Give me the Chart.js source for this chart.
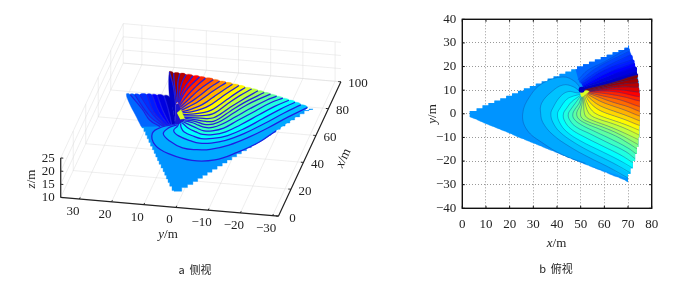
<!DOCTYPE html>
<html lang="en">

<head>
    <meta charset="UTF-8">
    <title>侧视 俯视</title>
    <style>
        body {
            margin: 0;
            background: #fff;
            font-family: "Liberation Serif", serif;
            color: #222;
        }

        #wrap {
            position: relative;
            width: 694px;
            height: 282px;
            overflow: hidden;
        }

        #side,
        #top {
            position: absolute;
            top: 0;
        }

        #side {
            left: 0;
        }

        #top {
            left: 347px;
        }

        .lab {
            position: absolute;
            font-size: 13px;
            line-height: 14px;
            white-space: nowrap;
            transform: translate(-50%, -50%);
        }

        .cap {
            font-family: "Noto Sans CJK SC", sans-serif;
            font-size: 11px;
        }
    </style>
    <script src="https://cdn.jsdelivr.net/npm/chart.js"></script>
</head>

<body>
    <div id="wrap">
        <div id="side"><canvas id="sideChart" width="347" height="282"></canvas></div>
        <div id="top"><canvas id="topChart" width="347" height="282"></canvas></div>
    </div>

    <script>
        // tick labels
        const sideXTicks = [0, 20, 40, 60, 80, 100];
        const sideYTicks = [30, 20, 10, 0, -10, -20, -30];
        const sideZTicks = [10, 15, 20, 25];
        const topXTicks = [0, 10, 20, 30, 40, 50, 60, 70, 80];
        const topYTicks = [-40, -30, -20, -10, 0, 10, 20, 30, 40];

        // wedge edge, read from the top view (stair corners)
        const wedgeTop = [[3, 1.2], [6, 2.4], [8.5, 3.6], [11, 4.6], [13.5, 5.6], [16, 6.6], [18.5, 7.6], [21, 8.7], [23.5, 9.8], [26, 10.8], [28.5, 11.8], [31, 12.8], [33.5, 13.8], [36, 14.9], [38.5, 15.9], [41, 16.9], [43.5, 17.9], [46, 18.9], [48.5, 20], [51, 21], [53.5, 22], [56, 23], [58.5, 24], [61, 25], [63.5, 26.1], [66, 27], [68.5, 28], [70, 29]];
        const wedgeArc = [[71, 25.5], [72, 23], [73, 20], [73.8, 17], [74.4, 14], [74.8, 10], [75, 5], [75, -5], [74.8, -10], [74.4, -14], [73.8, -17], [73, -20], [72, -23], [71, -25.5]];
        const wedgeBottom = [[70, -29], [68.5, -28], [66, -27], [63.5, -26.1], [61, -25], [58.5, -24], [56, -23], [53.5, -22], [51, -21], [48.5, -20], [46, -18.9], [43.5, -17.9], [41, -16.9], [38.5, -15.9], [36, -14.9], [33.5, -13.8], [31, -12.8], [28.5, -11.8], [26, -10.8], [23.5, -9.8], [21, -8.7], [18.5, -7.6], [16, -6.6], [13.5, -5.6], [11, -4.6], [8.5, -3.6], [6, -2.4], [3, -1.2]];

        // contours below and left of the source, low z to high z
        const contourLevels = [14.8, 15, 15.3, 15.6, 15.9, 16.2, 16.5, 16.8, 17.1, 17.4, 17.8, 18.1, 18.5, 18.8, 19.2, 19.5, 19.9, 20.2, 20.6, 20.9, 21.3, 21.6, 21.8, 22];
        const contours = [
            [[50.4, 10], [47.6, 13.6], [42.5, 15.6], [34, 13], [28.6, 7.5], [25.5, 0], [27.3, -6.8], [34, -12.4], [42.6, -17.5], [52, -21]],
            [[49.7, 9.4], [46.8, 11.5], [42.5, 12.2], [37.8, 9.4], [33.5, 4.5], [33.1, 0], [34.2, -4], [38.4, -9], [45.5, -14], [53, -18.2], [62, -22.7], [70, -27.2]],
            [[49.8, 8.8], [48.3, 8.9], [44.7, 9.4], [41.3, 7.2], [38.2, 2.4], [37.4, 0], [38.2, -3.5], [41, -7.5], [47, -12], [55, -16.5], [64, -21], [71, -25]],
            [[49.7, 8.2], [46.9, 7.5], [44.1, 6.1], [41.3, 2.4], [40.2, 0], [41, -3.5], [44, -7.5], [50, -11.5], [58, -15.5], [66, -19.5], [72, -23]],
            [[50, 8], [49, 7.2], [46.2, 5.1], [44.1, 2.4], [42.7, 0], [43.2, -3], [46, -6.5], [52, -10], [60, -14], [67, -17.5], [72.5, -21]],
            [[50, 7.5], [47.9, 4.7], [46.2, 2.4], [44.8, 0], [45.3, -2.5], [48, -5.5], [54, -8.5], [62, -12.5], [69, -16], [73, -19]],
            [[50.2, 7.2], [49.3, 4.4], [47.9, 2.4], [46.7, 0], [47.2, -2.2], [50, -4.5], [56, -7.5], [63, -10.8], [70, -14.5], [73.5, -17]],
            [[50.4, 7], [49.8, 3.5], [48.7, 1.5], [48.3, 0], [49, -2], [52, -4], [58, -6.5], [65, -9.5], [71, -13], [74, -15]],
            [[50.8, 7], [50.5, 3.5], [49.9, 0.5], [50.5, -1.8], [53.5, -3.5], [59, -5.5], [66, -8.5], [74.2, -13]],
            [[51, 7.3], [51.3, 3.5], [51.5, 0.5], [52.5, -1.5], [55.5, -3], [61, -5], [67, -7.5], [74.5, -11]],
            [[51.3, 7.5], [52, 4], [53, 1], [54.5, -0.8], [57.5, -2.2], [63, -4], [69, -6.3], [74.7, -9]],
            [[51.6, 7.8], [52.8, 4.5], [54.5, 1.7], [56.5, 0], [60, -1.5], [65, -3.2], [70, -5], [74.8, -7]],
            [[52, 8], [53.5, 5.3], [56, 2.8], [59, 1], [63, -0.5], [68, -2.2], [75, -5]],
            [[52.3, 8.2], [54.5, 6], [57.5, 3.8], [61, 2.2], [65, 0.8], [70, -1], [75, -3]],
            [[52.6, 8.5], [55.5, 6.8], [59, 5], [63, 3.5], [68, 1.8], [75, -1]],
            [[53, 8.7], [56.5, 7.5], [60.5, 6], [65, 4.5], [70, 3], [75, 1]],
            [[53.3, 9], [57.5, 8], [62, 7], [67, 5.8], [75, 3]],
            [[53.5, 9.3], [58.5, 8.8], [64, 8], [69, 7], [75, 5.4]],
            [[53.8, 9.5], [60, 9.6], [66, 9.1], [74.8, 7.2]],
            [[54, 9.6], [61, 10.1], [67, 10.1], [74.5, 9.2]],
            [[54, 9.7], [61, 10.7], [68, 11.4], [74.2, 11.3]],
            [[53.5, 9.8], [61, 11.3], [68, 12.6], [74, 13.2]],
            [[53, 10], [60, 11.8], [68, 13.8], [73.6, 15]],
            [[51, 10], [63.7, 13.2], [74, 16.4]]
        ];

        // contours of the low blue part above the cut, cut first
        const upperLevels = [12.5, 12.8, 13.1, 13.4, 13.6, 13.8, 14, 14.2];
        const upperLines = [
            [[51, 10], [63.7, 13.2], [74, 16.4]],
            [[51, 11], [63, 14.5], [73.6, 18]],
            [[51, 11.3], [62, 16], [73, 20]],
            [[50.8, 11.8], [61, 17.2], [72.5, 21.5]],
            [[50.5, 12.5], [60, 18.5], [72, 23]],
            [[50, 13], [58, 18.5], [71, 25]],
            [[49.5, 13.5], [56, 19], [70.5, 26.5]],
            [[49, 14.5], [53, 18.5], [60, 22], [70, 27.8]]
        ];
        const upperEdge = [[47.5, 20], [56, 23.6], [63, 26.6], [70, 29]];
        const edgeLevel = 14.3;
        const baseLevel = 14.7;
        const sourcePoint = [50.4, 10.2];

        // surface right at the source, x y z read from the side view
        const sourceDark = [[51, 10, 22], [54, 9.6, 21], [53, 8.7, 19.5], [52, 8, 18], [51, 7, 17], [50, 7.5, 15.5], [50, 10, 13]];
        const sourceLow = [[51, 9.6, 18.8], [53, 8.7, 19.2], [52, 8, 18], [51, 7, 17], [50.5, 8.5, 16.8]];
        const sourceLowLevel = 17.9;

        // colour map runs over these heights
        const zMin = 12;
        const zMax = 22;

        function jet(z) {
            const t = Math.min(1, Math.max(0, (z - zMin) / (zMax - zMin)));
            const ch = v => Math.round(255 * Math.min(1, Math.max(0, 1.5 - Math.abs(4 * t - v))));
            return 'rgb(' + ch(3) + ',' + ch(2) + ',' + ch(1) + ')';
        }

        function band(a, b) {
            return a.concat(b.slice().reverse());
        }

        // layers of the surface, painted in this order
        function surfaceLayers() {
            const list = [];
            upperLines.forEach((u, i) => {
                const next = i < upperLines.length - 1 ? upperLines[i + 1] : upperEdge;
                const nextZ = i < upperLines.length - 1 ? upperLevels[i + 1] : edgeLevel;
                list.push({ a: u, za: upperLevels[i], b: next, zb: nextZ, color: jet((upperLevels[i] + nextZ) / 2) });
            });
            list.push({ a: contours[23], za: zMax, b: upperLines[0], zb: upperLevels[0], color: '#0000c8' });
            contours.forEach((c, i) => {
                if (i < contours.length - 1) {
                    list.push({ a: c, za: contourLevels[i], b: contours[i + 1], zb: contourLevels[i + 1], color: jet((contourLevels[i] + contourLevels[i + 1]) / 2) });
                }
            });
            return list;
        }

        function polygon(points, color, extra) {
            return Object.assign({
                data: points,
                showLine: true,
                fill: 'shape',
                backgroundColor: color,
                borderColor: color,
                borderWidth: 0.4,
                pointRadius: 0,
                tension: 0.4
            }, extra || {});
        }

        function curve(points, color, width) {
            return {
                data: points,
                showLine: true,
                fill: false,
                borderColor: color,
                borderWidth: width,
                pointRadius: 0,
                tension: 0.4
            };
        }

        const xy = p => ({ x: p[0], y: p[1] });

        /* ---------- top view ---------- */
        const topSets = [];
        topSets.push(polygon(wedgeTop.concat(wedgeArc, wedgeBottom).map(xy), jet(baseLevel), { tension: 0 }));
        topSets.push(polygon(contours.map(c => xy(c[0])), jet(sourceLowLevel), { tension: 0 }));
        surfaceLayers().forEach(l => {
            topSets.push(polygon(band(l.a, l.b).map(xy), l.color));
        });
        const topLine = 'rgba(20,50,150,0.5)';
        upperLines.slice(1).forEach(u => topSets.push(curve(u.map(xy), 'rgba(0,20,120,0.3)', 0.6)));
        contours.forEach(c => topSets.push(curve(c.map(xy), topLine, 0.7)));
        topSets.push({ data: [xy(sourcePoint)], pointRadius: 3, backgroundColor: '#0000c0', borderWidth: 0 });

        // clip the top view to the stair shaped wedge
        const wedgeClip = {
            id: 'wedgeClip',
            beforeDatasetsDraw(chart) {
                const sx = chart.scales.x, sy = chart.scales.y, ctx = chart.ctx;
                const pts = wedgeTop.concat(wedgeArc, wedgeBottom);
                ctx.save();
                ctx.beginPath();
                pts.forEach((p, i) => {
                    if (i === 0) {
                        ctx.moveTo(sx.getPixelForValue(p[0]), sy.getPixelForValue(p[1]));
                    } else {
                        ctx.lineTo(sx.getPixelForValue(p[0]), sy.getPixelForValue(pts[i - 1][1]));
                        ctx.lineTo(sx.getPixelForValue(p[0]), sy.getPixelForValue(p[1]));
                    }
                });
                ctx.closePath();
                ctx.clip();
            },
            afterDatasetsDraw(chart) {
                chart.ctx.restore();
            }
        };

        // box round the plot with inward ticks
        const boxFrame = {
            id: 'boxFrame',
            afterDraw(chart) {
                const a = chart.chartArea, ctx = chart.ctx;
                ctx.save();
                ctx.strokeStyle = '#111';
                ctx.lineWidth = 1;
                topXTicks.forEach(v => {
                    const px = chart.scales.x.getPixelForValue(v);
                    ctx.beginPath();
                    ctx.moveTo(px, a.bottom);
                    ctx.lineTo(px, a.bottom - 2.5);
                    ctx.moveTo(px, a.top);
                    ctx.lineTo(px, a.top + 2.5);
                    ctx.stroke();
                });
                topYTicks.forEach(v => {
                    const py = chart.scales.y.getPixelForValue(v);
                    ctx.beginPath();
                    ctx.moveTo(a.left, py);
                    ctx.lineTo(a.left + 2.5, py);
                    ctx.moveTo(a.right, py);
                    ctx.lineTo(a.right - 2.5, py);
                    ctx.stroke();
                });
                ctx.lineWidth = 1.4;
                ctx.strokeRect(a.left, a.top, a.right - a.left, a.bottom - a.top);
                ctx.restore();
            }
        };

        const minusLabel = v => String(v).replace('-', '\u2212');

        new Chart(document.getElementById('topChart'), {
            type: 'scatter',
            data: { datasets: topSets.reverse() },
            options: {
                responsive: false,
                animation: false,
                layout: { padding: { top: 19.3, right: 42.3, left: 0, bottom: 0 } },
                plugins: { legend: { display: false }, tooltip: { enabled: false } },
                scales: {
                    x: {
                        type: 'linear',
                        min: 0,
                        max: 80,
                        afterBuildTicks: s => { s.ticks = topXTicks.map(v => ({ value: v })); },
                        afterFit: s => { s.height = 73.7; },
                        grid: { color: '#999', drawTicks: false },
                        border: { dash: [1, 2] },
                        ticks: { color: '#222', padding: 8, maxRotation: 0, autoSkip: false, font: { family: 'Liberation Serif', size: 13 }, callback: minusLabel }
                    },
                    y: {
                        type: 'linear',
                        min: -40,
                        max: 40,
                        afterBuildTicks: s => { s.ticks = topYTicks.map(v => ({ value: v })); },
                        afterFit: s => { s.width = 115.3; },
                        grid: { color: '#999', drawTicks: false },
                        border: { dash: [1, 2] },
                        ticks: { color: '#222', padding: 6, autoSkip: false, font: { family: 'Liberation Serif', size: 13 }, callback: minusLabel }
                    }
                }
            },
            plugins: [wedgeClip, boxFrame]
        });

        /* ---------- side view ---------- */
        const yNear = 35.8, yFar = -31.8;

        // fixed camera of the 3D box, z starts at 10
        function project(x, y, z) {
            return {
                x: (528 + 1.875 * x - 9.66 * y) / 3,
                y: (622 - 4.03 * x - 0.83 * y - 7.9 * (z - 10)) / 3
            };
        }

        const sideSets = [];
        const gridColor = 'rgba(215,215,215,0.7)';
        const seg = (a, b, color, width) => curve([project(a[0], a[1], a[2]), project(b[0], b[1], b[2])], color, width);

        sideXTicks.forEach(x => {
            sideSets.push(seg([x, yNear, 10], [x, yFar, 10], gridColor, 0.6));
            sideSets.push(seg([x, yNear, 10], [x, yNear, 25], gridColor, 0.6));
        });
        sideYTicks.forEach(y => {
            sideSets.push(seg([0, y, 10], [100, y, 10], gridColor, 0.6));
            sideSets.push(seg([100, y, 10], [100, y, 25], gridColor, 0.6));
        });
        sideZTicks.forEach(z => {
            sideSets.push(seg([0, yNear, z], [100, yNear, z], gridColor, 0.6));
            sideSets.push(seg([100, yNear, z], [100, yFar, z], gridColor, 0.6));
        });

        // azure part of the surface, stair edge (closing chord lies under the fan)
        const leftOutline = wedgeBottom.concat(wedgeTop.slice(0, 19));
        sideSets.push(polygon(leftOutline.map(p => project(p[0], p[1], baseLevel)), jet(baseLevel), { tension: 0, stepped: true }));

        const sideLine = 'rgb(30,30,225)';
        const lift = (pts, z) => pts.map(p => project(p[0], p[1], z));
        const layers = surfaceLayers();
        layers.slice(0, upperLines.length + 1).forEach(l => {
            sideSets.push(polygon(lift(l.a, l.za).concat(lift(l.b, l.zb).reverse()), l.color));
        });
        upperLines.slice(1).forEach((u, i) => sideSets.push(curve(lift(u, upperLevels[i + 1]), sideLine, 1.2)));
        // small pieces of surface left open at the source
        sideSets.push(polygon(sourceDark.map(p => project(p[0], p[1], p[2])), '#1c14d0', { tension: 0 }));
        sideSets.push(polygon(sourceLow.map(p => project(p[0], p[1], p[2])), jet(sourceLowLevel), { tension: 0 }));
        layers.slice(upperLines.length + 1).forEach((l, i) => {
            sideSets.push(polygon(lift(l.a, l.za).concat(lift(l.b, l.zb).reverse()), l.color));
            sideSets.push(curve(lift(contours[i], contourLevels[i]), sideLine, 1.25));
        });
        sideSets.push(curve(lift(contours[23], contourLevels[23]), sideLine, 1.25));

        // axes and their ticks
        const axisColor = '#222';
        sideSets.push(seg([0, yNear, 10], [0, yFar, 10], axisColor, 1.2));
        sideSets.push(seg([0, yFar, 10], [100, yFar, 10], axisColor, 1.2));
        sideSets.push(seg([0, yNear, 10], [0, yNear, 25], axisColor, 1.2));
        sideYTicks.forEach(y => sideSets.push(seg([0, y, 10], [1.2, y, 10], axisColor, 1)));
        sideXTicks.forEach(x => sideSets.push(seg([x, yFar, 10], [x, yFar + 0.8, 10], axisColor, 1)));
        sideZTicks.forEach(z => sideSets.push(seg([0, yNear, z], [0, yNear - 0.8, z], axisColor, 1)));

        new Chart(document.getElementById('sideChart'), {
            type: 'scatter',
            data: { datasets: sideSets.reverse() },
            options: {
                responsive: false,
                animation: false,
                layout: { padding: 0 },
                plugins: { legend: { display: false }, tooltip: { enabled: false } },
                scales: {
                    x: { type: 'linear', display: false, min: 0, max: 347 },
                    y: { type: 'linear', display: false, min: 0, max: 282, reverse: true }
                }
            }
        });

        /* ---------- text ---------- */
        const wrap = document.getElementById('wrap');

        function addLabel(html, x, y, extraClass, angle) {
            const el = document.createElement('div');
            el.className = 'lab ' + (extraClass || '');
            el.innerHTML = html;
            el.style.left = x + 'px';
            el.style.top = y + 'px';
            if (angle) {
                el.style.transform = 'translate(-50%, -50%) rotate(' + angle + 'deg)';
            }
            wrap.appendChild(el);
        }

        sideYTicks.forEach(y => {
            const p = project(0, y, 10);
            addLabel(minusLabel(y), p.x - 6.5, p.y + 12);
        });
        sideXTicks.forEach(x => {
            const p = project(x, yFar, 10);
            addLabel(String(x), p.x + (x === 100 ? 17 : 14), p.y + 1.5);
        });
        sideZTicks.forEach(z => {
            const p = project(0, yNear, z);
            addLabel(String(z), p.x - 12.5, p.y);
        });
        addLabel('<i>y</i>/m', 168, 234);
        addLabel('<i>x</i>/m', 343, 158, '', -65);
        addLabel('<i>z</i>/m', 31, 179, '', -90);
        addLabel('a&nbsp;&nbsp;侧视', 195, 269, 'cap');

        addLabel('<i>x</i>/m', 556.5, 243);
        addLabel('<i>y</i>/m', 432, 114, '', -90);
        addLabel('b&nbsp;&nbsp;俯视', 556, 268, 'cap');
    </script>
</body>

</html>
